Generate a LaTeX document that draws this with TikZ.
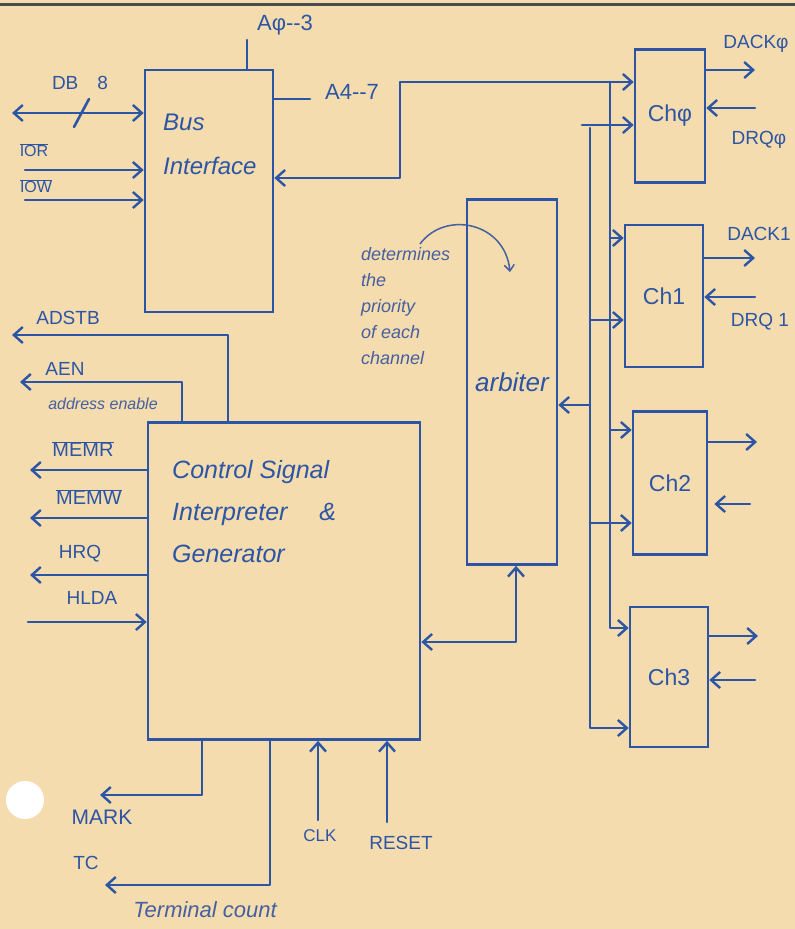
\documentclass[tikz,border=0pt]{standalone}
\usepackage{fontspec}
\setmainfont{Liberation Sans}
\usetikzlibrary{arrows.meta}
\definecolor{paper}{RGB}{244,220,174}
\definecolor{ink}{RGB}{45,85,165}
\definecolor{ink2}{RGB}{70,95,160}
\newcommand\ovl[1]{$\overline{\hbox{#1}}$}
\begin{document}
\begin{tikzpicture}[x=1pt,y=-1pt,
  wire/.style={draw=ink, line width=2.6pt, line cap=round, line join=round},
  arr/.style={wire, -{Straight Barb[length=9pt,width=16pt,line width=2.4pt]}},
  bidir/.style={wire, {Straight Barb[length=9pt,width=16pt,line width=2.4pt]}-{Straight Barb[length=9pt,width=16pt,line width=2.4pt]}},
  blk/.style={draw=ink, line width=2.6pt, inner sep=0pt, text=ink},
  lbl/.style={text=ink, inner sep=1pt, font=\fontsize{19}{21}\selectfont},
  note/.style={text=ink2, inner sep=1pt, font=\itshape\fontsize{16}{18}\selectfont},
  boxtxt/.style={text=ink, inner sep=0pt, align=left}
]
\useasboundingbox (0,0) rectangle (795,929);
\fill[paper] (0,0) rectangle (795,929);
\draw[line width=3pt, black!70] (0,4) -- (795,4);
\fill[white] (25,800) circle[radius=19pt];

% blocks
\node[blk, minimum width=128pt, minimum height=242pt] (bus) at (209,191) {};
\node[boxtxt, anchor=north west, font=\itshape\fontsize{24}{44}\selectfont] (bustxt) at (163,114) {Bus\\Interface};
\node[blk, minimum width=272pt, minimum height=317pt] (csig) at (284,581) {};
\node[boxtxt, anchor=north west, font=\itshape\fontsize{25}{42}\selectfont] (csigtxt) at (172,460) {Control Signal\\Interpreter \quad\&\\Generator};
\node[blk, minimum width=90pt, minimum height=365pt, font=\itshape\fontsize{26}{30}\selectfont] (arb) at (512,382) {arbiter};
\node[blk, minimum width=70pt, minimum height=133pt, font=\fontsize{23}{26}\selectfont] (ch0) at (670,116) {Chφ};
\node[blk, minimum width=78pt, minimum height=142pt, font=\fontsize{23}{26}\selectfont] (ch1) at (664,296) {Ch1};
\node[blk, minimum width=74pt, minimum height=143pt, font=\fontsize{23}{26}\selectfont] (ch2) at (670,483) {Ch2};
\node[blk, minimum width=78pt, minimum height=140pt, font=\fontsize{23}{26}\selectfont] (ch3) at (669,677) {Ch3};

% bus interface signals
\coordinate (dbL) at (12,113);
\draw[bidir] (dbL) -- (dbL -| bus.west);
\draw[wire] (74,127) -- (89,99);
\coordinate (iorL) at (25,170);
\draw[arr] (iorL) -- (iorL -| bus.west);
\coordinate (iowL) at (25,200);
\draw[arr] (iowL) -- (iowL -| bus.west);
\coordinate (a03) at (247,40);
\draw[wire] (a03) -- (a03 |- bus.north);
\coordinate (a47) at (310,99);
\draw[wire] (a47) -- (a47 -| bus.east);

% address bus to channels
\coordinate (bz) at (400,178);
\coordinate (bt) at (400,82);
\draw[bidir] (bz -| bus.east) -- (bz) -- (bt) -- (bt -| ch0.west);
\coordinate (jA0) at (610,82);
\coordinate (jA1) at (610,238);
\coordinate (jA2) at (610,430);
\coordinate (jA3) at (610,628);
\draw[arr] (jA0) -- (jA3) -- (jA3 -| ch3.west);
\draw[arr] (jA1) -- (jA1 -| ch1.west);
\draw[arr] (jA2) -- (jA2 -| ch2.west);

\coordinate (jB0) at (582,125);
\coordinate (jBt) at (590,128);
\coordinate (jB1) at (590,320);
\coordinate (jBa) at (590,405);
\coordinate (jB2) at (590,523);
\coordinate (jB3) at (590,728);
\draw[arr] (jB0) -- (jB0 -| ch0.west);
\draw[arr] (jBt) -- (jB3) -- (jB3 -| ch3.west);
\draw[arr] (jB1) -- (jB1 -| ch1.west);
\draw[arr] (jBa) -- (jBa -| arb.east);
\draw[arr] (jB2) -- (jB2 -| ch2.west);

% channel request / acknowledge
\coordinate (d0) at (755,70);  \draw[arr] (d0 -| ch0.east) -- (d0);
\coordinate (r0) at (755,108); \draw[arr] (r0) -- (r0 -| ch0.east);
\coordinate (d1) at (755,258); \draw[arr] (d1 -| ch1.east) -- (d1);
\coordinate (r1) at (755,297); \draw[arr] (r1) -- (r1 -| ch1.east);
\coordinate (d2) at (757,442); \draw[arr] (d2 -| ch2.east) -- (d2);
\coordinate (r2) at (750,504); \draw[arr, line width=2pt, shorten >=6pt] (r2) -- (r2 -| ch2.east);
\coordinate (d3) at (758,636); \draw[arr] (d3 -| ch3.east) -- (d3);
\coordinate (r3) at (755,680); \draw[arr] (r3) -- (r3 -| ch3.east);

% control signal generator <-> arbiter
\coordinate (ca) at (516,642);
\draw[bidir] (ca -| csig.east) -- (ca) -- (ca |- arb.south);

% control outputs
\coordinate (adX) at (228,335);
\coordinate (adL) at (12,335);
\draw[arr] (adX |- csig.north) -- (adX) -- (adL);
\coordinate (aeX) at (182,382);
\coordinate (aeL) at (20,382);
\draw[arr] (aeX |- csig.north) -- (aeX) -- (aeL);
\coordinate (mrL) at (30,470); \draw[arr] (mrL -| csig.west) -- (mrL);
\coordinate (mwL) at (30,518); \draw[arr] (mwL -| csig.west) -- (mwL);
\coordinate (hqL) at (30,575); \draw[arr] (hqL -| csig.west) -- (hqL);
\coordinate (hlL) at (28,622); \draw[arr] (hlL) -- (hlL -| csig.west);

% bottom signals
\coordinate (mkX) at (202,795);
\coordinate (mkL) at (100,795);
\draw[arr] (mkX |- csig.south) -- (mkX) -- (mkL);
\coordinate (tcX) at (270,885);
\coordinate (tcL) at (105,885);
\draw[arr] (tcX |- csig.south) -- (tcX) -- (tcL);
\coordinate (clk) at (318,820); \draw[arr] (clk) -- (clk |- csig.south);
\coordinate (rst) at (387,822); \draw[arr] (rst) -- (rst |- csig.south);

% annotation
\node[note, anchor=north west, align=left, font=\itshape\fontsize{18}{26}\selectfont] (ann) at (360,246) {determines\\the\\priority\\of each\\channel};
\coordinate (cvA) at (420,244);
\coordinate (cvB) at (510,272);
\draw[ink2, line width=1.5pt, -{Straight Barb[length=6pt,width=10pt,line width=1.5pt]}] (cvA) .. controls (445,210) and (505,222) .. (cvB);

% labels
\node[lbl] (lDB) at (80,83) {DB\quad 8};
\node[lbl, font=\fontsize{16}{18}\selectfont] (lIOR) at (34,150) {\ovl{IOR}};
\node[lbl, font=\fontsize{16}{18}\selectfont] (lIOW) at (36,186) {\ovl{IOW}};
\node[lbl, font=\fontsize{22}{24}\selectfont] (lA03) at (285,25) {Aφ-{}-3};
\node[lbl, font=\fontsize{22}{24}\selectfont] (lA47) at (352,92) {A4-{}-7};
\node[lbl] (lDA0) at (756,44) {DACKφ};
\node[lbl] (lDR0) at (759,140) {DRQφ};
\node[lbl] (lDA1) at (759,234) {DACK1};
\node[lbl] (lDR1) at (760,322) {DRQ 1};
\node[lbl] (lAD) at (68,318) {ADSTB};
\node[lbl] (lAE) at (65,369) {AEN};
\node[note] (lAEn) at (103,404) {address enable};
\node[lbl, font=\fontsize{20}{22}\selectfont] (lMR) at (83,449) {\ovl{MEMR}};
\node[lbl, font=\fontsize{20}{22}\selectfont] (lMW) at (89,497) {\ovl{MEMW}};
\node[lbl] (lHQ) at (80,554) {HRQ};
\node[lbl] (lHL) at (92,598) {HLDA};
\node[lbl, font=\fontsize{21}{23}\selectfont] (lMK) at (102,817) {MARK};
\node[lbl] (lTC) at (86,863) {TC};
\node[note, font=\itshape\fontsize{22}{24}\selectfont] (lTCn) at (205,910) {Terminal count};
\node[lbl, font=\fontsize{17}{19}\selectfont] (lCK) at (320,836) {CLK};
\node[lbl] (lRS) at (401,843) {RESET};
\end{tikzpicture}
\end{document}
